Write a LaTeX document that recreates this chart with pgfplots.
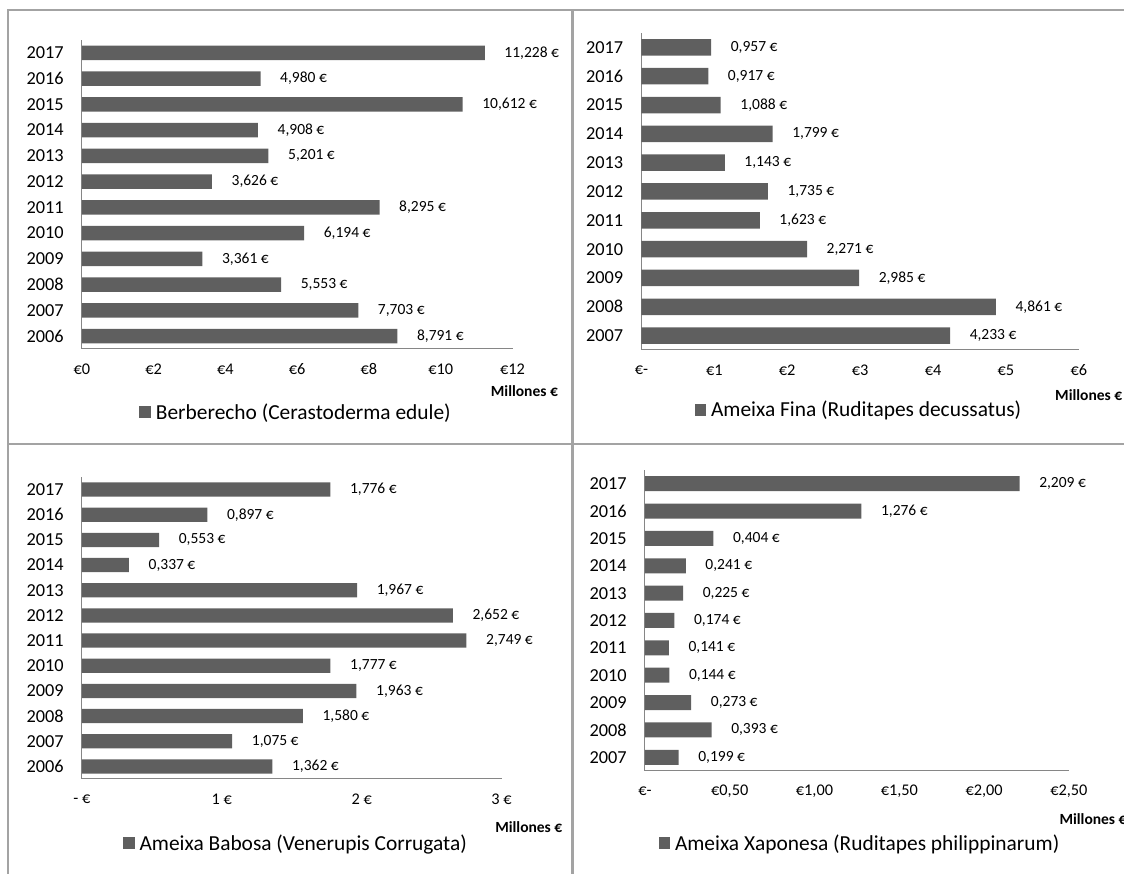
\documentclass[border=0pt]{standalone}
\usepackage{fontspec}
\setmainfont{Carlito}
\usepackage{pgfplots}
\pgfplotsset{compat=1.18}
\definecolor{barc}{HTML}{5F5F5F}
\definecolor{axc}{HTML}{868686}
\definecolor{brd}{HTML}{A3A3A3}
\pgfplotsset{
  panel/.style={
    xbar, scale only axis, anchor=south west, clip=false,
    axis lines*=left, axis line style={axc, line width=1pt},
    major tick length=0pt, enlargelimits=false,
    bar shift=0pt,
    ytick={2006,2007,2008,2009,2010,2011,2012,2013,2014,2015,2016,2017},
    yticklabels={2006,2007,2008,2009,2010,2011,2012,2013,2014,2015,2016,2017},
    yticklabel style={anchor=east, inner sep=0pt, xshift=-18pt, font=\fontsize{18.3}{19}\selectfont},
    xticklabel style={anchor=center, inner sep=0pt, yshift=-20pt, font=\fontsize{16.3}{17}\selectfont},
    nodes near coords={\pgfmathprintnumber[fixed,fixed zerofill,precision=3,use comma,assume math mode=true]{\pgfplotspointmeta}~€},
    every node near coord/.append style={anchor=west, inner sep=0pt, xshift=19.5pt, font=\fontsize{15.5}{16}\selectfont, text=black},
    xlabel style={anchor=west, inner sep=0pt, font=\bfseries\fontsize{15.5}{16}\selectfont},
    legend style={draw=none, fill=none, inner sep=0pt, anchor=west,
      font=\fontsize{21.4}{22}\selectfont,
      nodes={inner sep=0pt},
      /tikz/every odd column/.append style={column sep=5pt}},
    legend image code/.code={\fill[barc] (0pt,-5.75pt) rectangle (11.5pt,5.75pt);},
  },
  barstyle/.style={fill=barc, draw=none},
}
\begin{document}
\begin{tikzpicture}[x=1pt,y=1pt]
\draw[brd, line width=2.5pt] (8,0) -- (8,864) -- (1124,864);
\draw[brd, line width=2.5pt] (572.5,0) -- (572.5,864);
\draw[brd, line width=2.5pt] (8,430) -- (1124,430);

% Top left: Berberecho
\begin{axis}[panel, at={(81.8pt,525pt)}, width=430.7pt, height=309pt,
  xmin=0, xmax=12, ymin=2005.5, ymax=2017.5, bar width=14.5pt,
  xtick={0,2,4,6,8,10,12}, xticklabels={€0,€2,€4,€6,€8,€10,€12},
  xlabel={Millones €}, xlabel style={at={(axis description cs:0.9494,-0.136)}},
  legend style={at={(axis description cs:0.1333,-0.204)}}]
\addplot[barstyle] coordinates {
(8.791,2006) (7.703,2007) (5.553,2008) (3.361,2009) (6.194,2010) (8.295,2011)
(3.626,2012) (5.201,2013) (4.908,2014) (10.612,2015) (4.980,2016) (11.228,2017)};
\addlegendentry{Berberecho (Cerastoderma edule)}
\end{axis}

% Top right: Ameixa Fina
\begin{axis}[panel, at={(641.4pt,524pt)}, width=437.5pt, height=317pt,
  xmin=0, xmax=6, ymin=2006.5, ymax=2017.5, bar width=16.5pt,
  xtick={0,1,2,3,4,5,6}, xticklabels={€-,€1,€2,€3,€4,€5,€6},
  xlabel={Millones €}, xlabel style={at={(axis description cs:0.9454,-0.142)}},
  legend style={at={(axis description cs:0.1211,-0.189)}}]
\addplot[barstyle] coordinates {
(4.233,2007) (4.861,2008) (2.985,2009) (2.271,2010) (1.623,2011) (1.735,2012)
(1.143,2013) (1.799,2014) (1.088,2015) (0.917,2016) (0.957,2017)};
\addlegendentry{Ameixa Fina (Ruditapes decussatus)}
\end{axis}

% Bottom left: Ameixa Babosa
\begin{axis}[panel, at={(81.8pt,95pt)}, width=419.8pt, height=302pt,
  xmin=0, xmax=3, ymin=2005.5, ymax=2017.5, bar width=14.3pt,
  xtick={0,1,2,3}, xticklabels={- €,1 €,2 €,3 €},
  xlabel={Millones €}, xlabel style={at={(axis description cs:0.9845,-0.159)}},
  legend style={at={(axis description cs:0.0979,-0.212)}}]
\addplot[barstyle] coordinates {
(1.362,2006) (1.075,2007) (1.580,2008) (1.963,2009) (1.777,2010) (2.749,2011)
(2.652,2012) (1.967,2013) (0.337,2014) (0.553,2015) (0.897,2016) (1.776,2017)};
\addlegendentry{Ameixa Babosa (Venerupis Corrugata)}
\end{axis}

% Bottom right: Ameixa Xaponesa
\begin{axis}[panel, at={(644.9pt,103pt)}, width=424pt, height=301pt,
  xmin=0, xmax=2.5, ymin=2006.5, ymax=2017.5, bar width=15pt,
  xtick={0,0.5,1,1.5,2,2.5}, xticklabels={€-,{€0,50},{€1,00},{€1,50},{€2,00},{€2,50}},
  xlabel={Millones €}, xlabel style={at={(axis description cs:0.9774,-0.159)}},
  legend style={at={(axis description cs:0.0316,-0.239)}}]
\addplot[barstyle] coordinates {
(0.199,2007) (0.393,2008) (0.273,2009) (0.144,2010) (0.141,2011) (0.174,2012)
(0.225,2013) (0.241,2014) (0.404,2015) (1.276,2016) (2.209,2017)};
\addlegendentry{Ameixa Xaponesa (Ruditapes philippinarum)}
\end{axis}

\pgfresetboundingbox
\useasboundingbox (0,0) rectangle (1124,874);
\end{tikzpicture}
\end{document}
